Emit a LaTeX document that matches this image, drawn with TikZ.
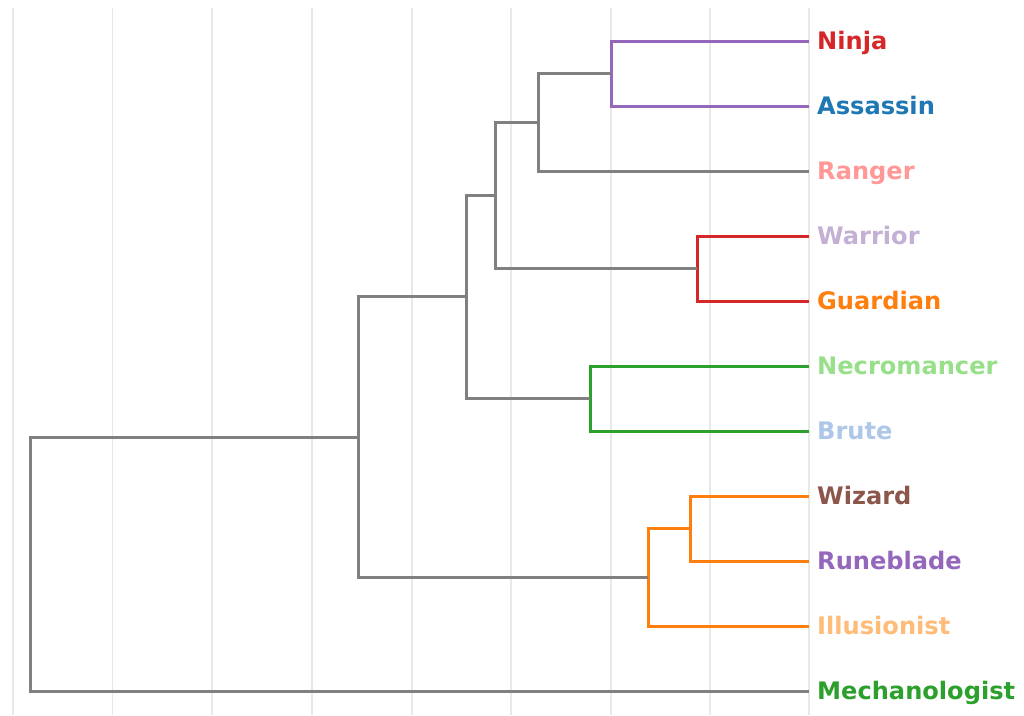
\documentclass[tikz,border=0pt]{standalone}
\usepackage{fontspec}
\setmainfont{DejaVu Sans}
\definecolor{cRed}{HTML}{D62728}
\definecolor{cBlue}{HTML}{1F77B4}
\definecolor{cPink}{HTML}{FF9896}
\definecolor{cLav}{HTML}{C5B0D5}
\definecolor{cOrange}{HTML}{FF7F0E}
\definecolor{cLGreen}{HTML}{98DF8A}
\definecolor{cLBlue}{HTML}{AEC7E8}
\definecolor{cBrown}{HTML}{8C564B}
\definecolor{cPurple}{HTML}{9467BD}
\definecolor{cPeach}{HTML}{FFBB78}
\definecolor{cGreen}{HTML}{2CA02C}
\definecolor{cGray}{HTML}{808080}
\definecolor{cGrid}{HTML}{E8E8E4}
\begin{document}
\begin{tikzpicture}[x=1pt,y=-1pt,
  gridline/.style={draw=cGrid,line width=1.5pt},
  link/.style={line width=3pt,line join=miter,line cap=butt},
  leaflabel/.style={anchor=base west,inner sep=0pt,font=\bfseries\fontsize{24.1}{24}\selectfont}]
\useasboundingbox (0,0) rectangle (1024,715);
\fill[white] (0,0) rectangle (1024,715);
% grid
\foreach \gx in {13,112.5,212,312,412,511,611,710,809}
  \draw[gridline] (\gx,8) -- (\gx,715);
% leaves
\foreach \nm/\yy in {ninja/41,assassin/106,ranger/171,warrior/236,guardian/301,necro/366,brute/431,wizard/496,rune/561,illus/626,mech/691}
  \coordinate (\nm) at (809,\yy);
% labels
\node[leaflabel,text=cRed]    (lninja)    at (817,49.8)  {Ninja};
\node[leaflabel,text=cBlue]   (lassassin) at (817,114.8) {Assassin};
\node[leaflabel,text=cPink]   (lranger)   at (817,179.8) {Ranger};
\node[leaflabel,text=cLav]    (lwarrior)  at (817,244.8) {Warrior};
\node[leaflabel,text=cOrange] (lguardian) at (817,309.8) {Guardian};
\node[leaflabel,text=cLGreen] (lnecro)    at (817,374.8) {Necromancer};
\node[leaflabel,text=cLBlue]  (lbrute)    at (817,439.8) {Brute};
\node[leaflabel,text=cBrown]  (lwizard)   at (817,504.8) {Wizard};
\node[leaflabel,text=cPurple] (lrune)     at (817,569.8) {Runeblade};
\node[leaflabel,text=cPeach]  (lillus)    at (817,634.8) {Illusionist};
\node[leaflabel,text=cGreen]  (lmech)     at (817,699.8) {Mechanologist};
% internal merge points
\coordinate (na)   at (611,73.5);
\coordinate (nar)  at (538,122);
\coordinate (wg)   at (697,268.5);
\coordinate (narwg) at (495,195);
\coordinate (nb)   at (590,398.5);
\coordinate (top)  at (466,296);
\coordinate (wr)   at (690,528.5);
\coordinate (wri)  at (648,577);
\coordinate (big)  at (358,437);
\coordinate (root) at (30,564);
% links
\draw[link,cPurple] (ninja) -- (ninja -| na) -- (assassin -| na) -- (assassin);
\draw[link,cGray] (na) -- (na -| nar) -- (ranger -| nar) -- (ranger);
\draw[link,cRed] (warrior) -- (warrior -| wg) -- (guardian -| wg) -- (guardian);
\draw[link,cGray] (nar) -- (nar -| narwg) -- (wg -| narwg) -- (wg);
\draw[link,cGreen] (necro) -- (necro -| nb) -- (brute -| nb) -- (brute);
\draw[link,cGray] (narwg) -- (narwg -| top) -- (nb -| top) -- (nb);
\draw[link,cOrange] (wizard) -- (wizard -| wr) -- (rune -| wr) -- (rune);
\draw[link,cOrange] (wr) -- (wr -| wri) -- (illus -| wri) -- (illus);
\draw[link,cGray] (top) -- (top -| big) -- (wri -| big) -- (wri);
\draw[link,cGray] (big) -- (big -| root) -- (mech -| root) -- (mech);
\end{tikzpicture}
\end{document}
